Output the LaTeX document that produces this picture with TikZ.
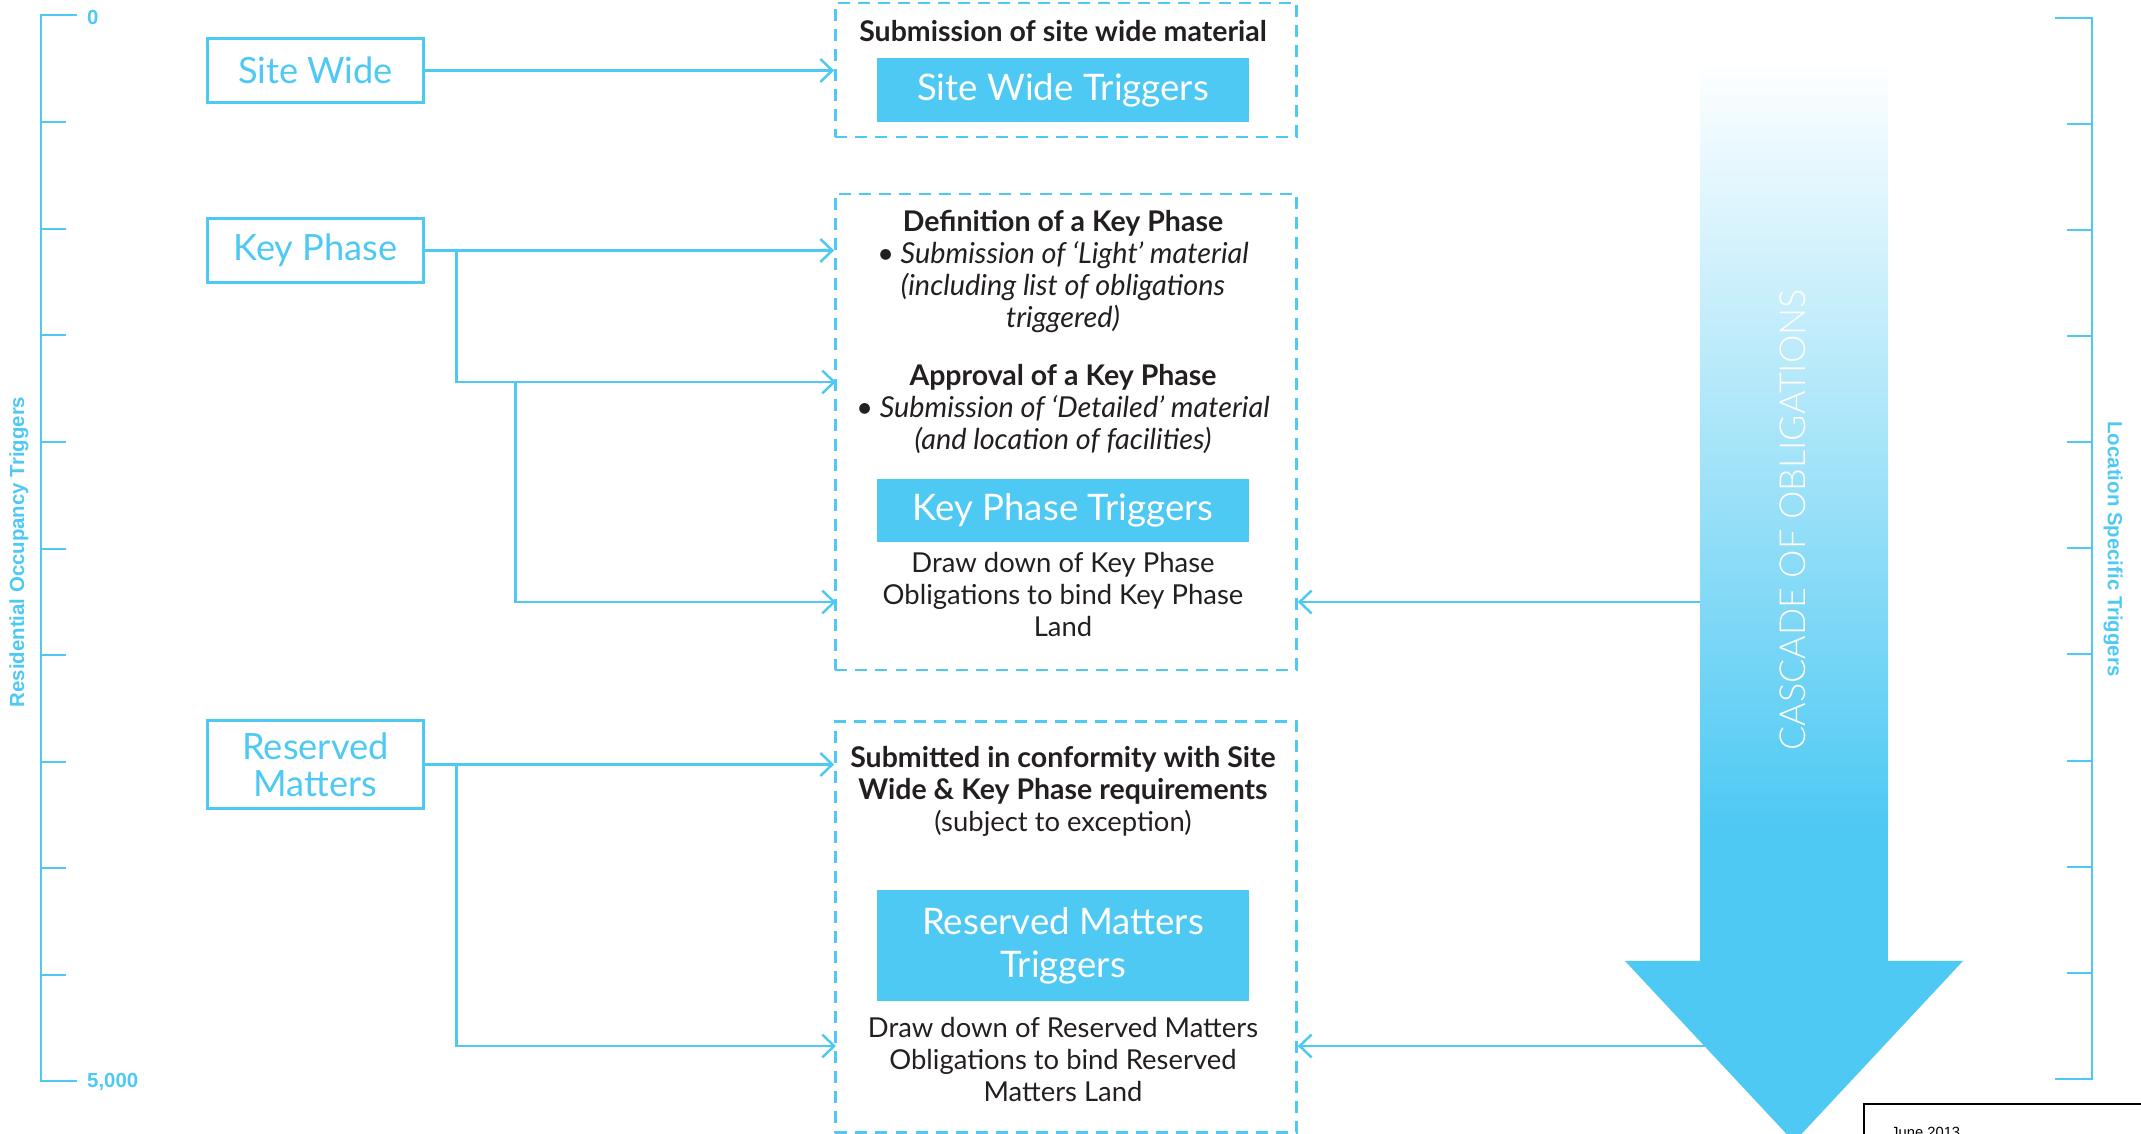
\documentclass[tikz,border=0pt]{standalone}
\usepackage{fontspec}
\setmainfont{Lato}
\newfontfamily\lightfont{Lato Light}
\newfontfamily\axisfont{Liberation Sans}
\usetikzlibrary{arrows.meta}
\definecolor{sky}{RGB}{77,201,243}
\definecolor{ink}{RGB}{35,31,32}
\newcommand{\boldline}[1]{{\fontsize{8.1}{9.1}\selectfont\bfseries #1}}
\newcommand{\slantline}[1]{{\fontsize{8.2}{9.1}\selectfont\itshape #1}}

\begin{document}
\begin{tikzpicture}[x=0.01cm, y=-0.01cm, line width=0.7pt,
  phase/.style = {draw=sky, line width=0.85pt, text=sky, minimum width=2.15cm, minimum height=0.63cm, inner sep=0pt, align=center, font=\fontsize{10.3}{10.5}\selectfont},
  trig/.style = {fill=sky, text=white, minimum width=3.71cm, minimum height=0.63cm, inner sep=0pt, align=center, font=\fontsize{10.4}{12.2}\selectfont},
  panel/.style = {draw=sky, dash pattern=on 3.4pt off 2.3pt, minimum width=4.61cm, inner sep=0pt},
  txt/.style = {text=ink, align=center, inner sep=0pt, font=\fontsize{7.8}{9.1}\selectfont},
  ruler/.style = {text=sky, inner sep=0pt, font=\axisfont\bfseries\fontsize{5.8}{6.5}\selectfont},
  link/.style = {draw=sky, -{Straight Barb[length=3.4pt,width=6.5pt]}},
]
\useasboundingbox (0,0) rectangle (2141,1134);

% scales
\draw[sky] (77,15) -- (41,15) -- (41,1081) -- (77,1081);
\foreach \t in {122,229,335,442,549,655,762,868,975}
  \draw[sky] (41,\t) -- (66,\t);
\draw[sky] (2055,18) -- (2092,18) -- (2092,1079) -- (2055,1079);
\foreach \t in {124,230,336,442,548,654,761,867,973}
  \draw[sky] (2067,\t) -- (2092,\t);
\node[ruler, anchor=west] (top) at (86,17) {0};
\node[ruler, anchor=west] (bot) at (86,1082) {5,000};
\node[ruler, rotate=90] (res) at (19,552) {Residential Occupancy Triggers};
\node[ruler, rotate=-90] (loc) at (2113,549) {Location Specific Triggers};

% left boxes
\node[phase] (sw) at (315.5,70.5) {Site Wide};
\node[phase] (kp) at (315.5,250.5) {Key Phase};
\node[phase, minimum height=0.87cm] (rm) at (315.5,764.5) {Reserved\\Matters};

% dashed panels
\node[panel, minimum height=1.34cm] (g1) at (1066,70) {};
\node[panel, minimum height=4.76cm] (g2) at (1066,432) {};
\node[panel, minimum height=4.11cm] (g3) at (1066,927) {};

\node[txt] (swh) at (1063,31) {\boldline{Submission of site wide material}};
\node[trig] (swt) at (1063,90) {Site Wide Triggers};

\node[txt] (kpd) at (1063,272) {\boldline{Definition of a Key Phase}\\\slantline{• Submission of ‘Light’ material}\\\slantline{(including list of obligations}\\\slantline{triggered)}};
\node[txt] (kpa) at (1063,409) {\boldline{Approval of a Key Phase}\\\slantline{• Submission of ‘Detailed’ material}\\\slantline{(and location of facilities)}};
\node[trig] (kpt) at (1063,510.5) {Key Phase Triggers};
\node[txt] (kpo) at (1063,595) {Draw down of Key Phase\\Obligations to bind Key Phase\\Land};

\node[txt] (rmc) at (1063,791) {\boldline{Submitted in conformity with Site}\\\boldline{Wide \& Key Phase requirements}\\(subject to exception)};
\node[trig, minimum height=1.11cm] (rmt) at (1063,945.5) {Reserved Matters\\Triggers};
\node[txt] (rmo) at (1063,1060) {Draw down of Reserved Matters\\Obligations to bind Reserved\\Matters Land};

% connectors
\coordinate (kp2) at (836,382);
\coordinate (kp3) at (836,602);
\coordinate (rm2) at (836,1046);
\coordinate (cas1) at (1700,602);
\coordinate (cas2) at (1730,1046);
\draw[link] (sw.east) -- (sw.east -| g1.west);
\draw[link] (kp.east) -- (kp.east -| g2.west);
\draw[link] (kp.east) -- ++(32,0) |- (kp2);
\draw[link] (kp.east) ++(91,131.5) |- (kp3);
\draw[link] (rm.east) -- (rm.east -| g3.west);
\draw[link] (rm.east) -- ++(32,0) |- (rm2);
\draw[link] (cas1) -- (cas1 -| g2.east);
\draw[link] (cas2) -- (cas2 -| g3.east);

% cascade arrow
\shade[top color=white, bottom color=sky] (1700,60) rectangle (1888,830);
\fill[sky] (1700,829) rectangle (1888,962);
\fill[sky] (1625,961) -- (1963,961) -- (1794,1142) -- cycle;
\node[rotate=90, text=white, font=\lightfont\fontsize{10.2}{12}\selectfont] (cas) at (1793,520) {CASCADE OF OBLIGATIONS};

% date box
\draw[black, line width=0.4pt] (2150,1104) -- (1864,1104) -- (1864,1150);
\node[anchor=north west, inner sep=0pt, font=\axisfont\fontsize{4.2}{5}\selectfont] (date) at (1890,1126) {June 2013};
\end{tikzpicture}
\end{document}
